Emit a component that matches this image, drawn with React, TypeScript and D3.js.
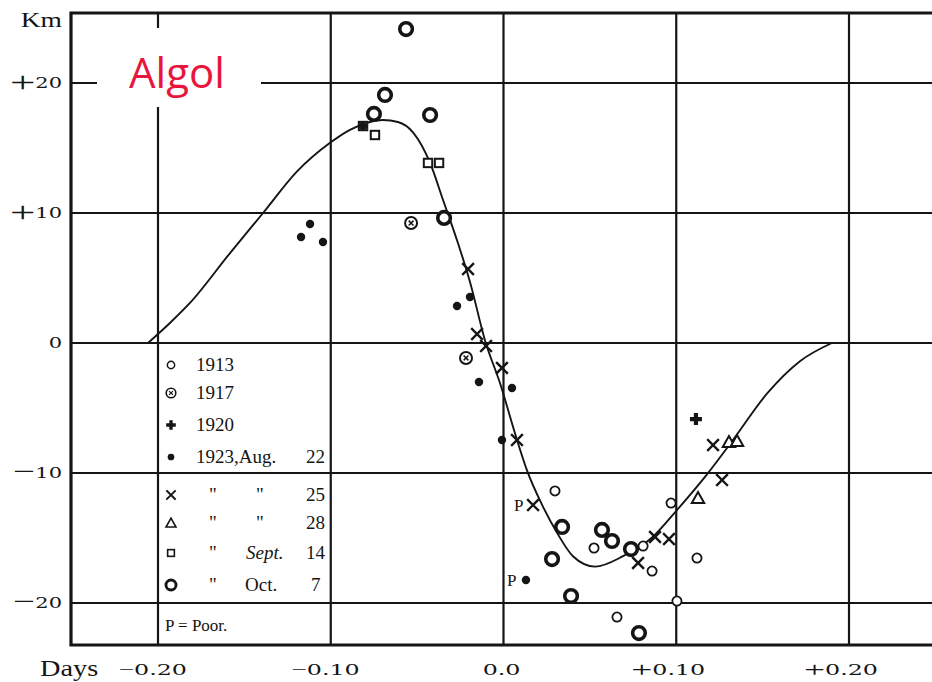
import React from 'react';
import * as d3 from 'd3';

const W = 932;
const H = 682;

// axis ticks
const xTicks = [-0.2, -0.1, 0, 0.1, 0.2];
const xTickSigns = ['\u2212', '\u2212', '', '+', '+'];
const xTickNums = ['0.20', '0.10', '0.0', '0.10', '0.20'];
const yTicks = [20, 10, 0, -10, -20];
const yTickSigns = ['+', '+', '', '\u2212', '\u2212'];
const yTickNums = ['20', '10', '0', '10', '20'];

// fitted velocity curve (days, km/s)
const curvePts: [number, number][] = [
  [-0.2058, 0], [-0.1931, 1.54], [-0.1815, 3.08], [-0.1583, 6.92], [-0.1392, 10.0],
  [-0.1195, 13.2], [-0.1004, 15.4], [-0.0889, 16.4], [-0.0773, 17.0], [-0.0698, 17.15],
  [-0.0611, 17.0], [-0.0524, 16.2], [-0.0425, 13.85], [-0.035, 11.0], [-0.0269, 7.9],
  [-0.0194, 4.7], [-0.0107, 0.2], [-0.002, -3.1], [0.0078, -7.45], [0.0136, -9.8],
  [0.0229, -12.6], [0.031, -14.6], [0.0402, -16.4], [0.053, -17.2],
  [0.0692, -16.4], [0.0865, -14.9], [0.1004, -12.85], [0.1178, -10.1], [0.1329, -7.45],
  [0.1525, -3.9], [0.1716, -1.4], [0.1901, 0],
];

// observations: [days, km, poor?]
type Obs = [number, number, boolean?];
const obs1913: Obs[] = [
  [0.0298, -11.38], [0.0524, -15.77], [0.0808, -15.62], [0.086, -17.54], [0.097, -12.31],
  [0.1004, -19.85], [0.0657, -21.08], [0.112, -16.54],
];
const obs1917: Obs[] = [[-0.0535, 9.23], [-0.0217, -1.15]];
const obs1920: Obs[] = [[0.1114, -5.85]];
const obsAug22: Obs[] = [
  [-0.1172, 8.15], [-0.112, 9.15], [-0.1045, 7.77], [-0.0194, 3.54], [-0.0269, 2.85],
  [-0.0142, -3.0], [0.0049, -3.46], [-0.0009, -7.46], [0.013, -18.23, true], [-0.0813, 16.69],
];
const obsAug25: Obs[] = [
  [-0.0205, 5.69], [-0.0153, 0.69], [-0.0101, -0.23], [-0.0009, -1.92], [0.0078, -7.46],
  [0.0171, -12.46, true], [0.0779, -16.92], [0.0877, -14.92], [0.0958, -15.08],
  [0.1213, -7.85], [0.1265, -10.54],
];
const obsAug28: Obs[] = [[0.1126, -11.92], [0.1305, -7.62], [0.1352, -7.54]];
const obsSep14: Obs[] = [[-0.0744, 16.0], [-0.0437, 13.85], [-0.0373, 13.85], [-0.0813, 16.69]];
const obsOct7: Obs[] = [
  [-0.0564, 24.15], [-0.0686, 19.08], [-0.075, 17.62], [-0.0425, 17.54], [-0.0344, 9.62],
  [0.0339, -14.15], [0.0281, -16.62], [0.0391, -19.46], [0.057, -14.38], [0.0628, -15.23],
  [0.0738, -15.85], [0.0784, -22.31],
];

const INK = '#151515';
const SERIF = '"Liberation Serif", "DejaVu Serif", serif';
const DSERIF = '"DejaVu Serif", serif';

type Kind = 'o' | 'ox' | 'plus' | 'dot' | 'x' | 'tri' | 'sq' | 'ring';

function Marker({ kind, cx, cy, s = 1 }: { kind: Kind; cx: number; cy: number; s?: number }) {
  const t = `translate(${cx},${cy}) scale(${s})`;
  switch (kind) {
    case 'o':
      return <circle transform={t} r={4.6} fill="#fff" stroke={INK} strokeWidth={1.8} />;
    case 'ox':
      return (
        <g transform={t}>
          <circle r={6} fill="#fff" stroke={INK} strokeWidth={2} />
          <path d="M-2.4,-2.4L2.4,2.4M-2.4,2.4L2.4,-2.4" stroke={INK} strokeWidth={1.5} />
        </g>
      );
    case 'plus':
      return <path transform={t} d="M-6,0H6M0,-6V6" stroke={INK} strokeWidth={4.2} />;
    case 'dot':
      return <circle transform={t} r={4.2} fill={INK} />;
    case 'x':
      return <path transform={t} d="M-5,-5L5,5M-5,5L5,-5" stroke={INK} strokeWidth={2.4} strokeLinecap="square" />;
    case 'tri':
      return <path transform={t} d="M0,-6L6.2,5H-6.2Z" fill="#fff" stroke={INK} strokeWidth={2} />;
    case 'sq':
      return <rect transform={t} x={-4.2} y={-4.2} width={8.4} height={8.4} fill="#fff" stroke={INK} strokeWidth={2} />;
    case 'ring':
      return <circle transform={t} r={6.3} fill="#fff" stroke={INK} strokeWidth={3.6} />;
  }
  return null;
}

const series: { kind: Kind; data: Obs[] }[] = [
  { kind: 'sq', data: obsSep14 },
  { kind: 'o', data: obs1913 },
  { kind: 'ox', data: obs1917 },
  { kind: 'ring', data: obsOct7 },
  { kind: 'tri', data: obsAug28 },
  { kind: 'x', data: obsAug25 },
  { kind: 'plus', data: obs1920 },
  { kind: 'dot', data: obsAug22 },
];

export default function App() {
  const x = d3.scaleLinear().domain([-0.2, 0.2]).range([158, 849]);
  const y = d3.scaleLinear().domain([20, -20]).range([83, 603]);
  const left = 71, top = 13, bottom = 645, right = W;

  const line = d3
    .line<[number, number]>()
    .x((d) => x(d[0]))
    .y((d) => y(d[1]))
    .curve(d3.curveMonotoneX);

  const legendX = 171;
  const textX = 196;
  const rowsY = [365, 393, 425, 457, 495, 523, 553, 585];

  return (
    <svg width={W} height={H} style={{ position: 'absolute', left: 0, top: 0, background: '#fff' }}>
      <rect width={W} height={H} fill="#fff" />
      {/* grid */}
      {xTicks.map((v) => (
        <line key={'gx' + v} x1={x(v)} x2={x(v)} y1={top} y2={bottom} stroke={INK} strokeWidth={2.2} />
      ))}
      {yTicks.map((v) => (
        <line key={'gy' + v} x1={left} x2={right} y1={y(v)} y2={y(v)} stroke={INK} strokeWidth={2.2} />
      ))}
      {/* frame */}
      <path d={`M${right},${top}H${left}V${bottom}H${right}`} fill="none" stroke={INK} strokeWidth={3.2} />

      {/* title box */}
      <rect x={97} y={28} width={164} height={79} fill="#fff" />
      <text x={129} y={88} fill="#e8163d" fontFamily='"Open Sans", "Noto Sans", sans-serif' fontSize={42}>
        Algol
      </text>

      {/* y axis labels */}
      <text transform="translate(62,27) scale(1.25,1)" textAnchor="end" fontFamily={SERIF} fontSize={22} fill={INK}>
        Km
      </text>
      {yTicks.map((v, i) => (
        <text
          key={'yl' + v}
          transform={`translate(62,${y(v) + 5}) scale(1.5,1)`}
          textAnchor="end"
          fontFamily={DSERIF}
          fontSize={14}
          fill={INK}
        >
          {yTickSigns[i] && (
            <tspan fontFamily={SERIF} fontSize={yTickSigns[i] === '+' ? 30 : 26} dy={yTickSigns[i] === '+' ? 3.5 : 2}>
              {yTickSigns[i]}
            </tspan>
          )}
          <tspan dy={yTickSigns[i] ? (yTickSigns[i] === '+' ? -3.5 : -2) : 0}>{yTickNums[i]}</tspan>
        </text>
      ))}

      {/* x axis labels */}
      <text transform="translate(40,676) scale(1.18,1)" fontFamily={SERIF} fontSize={24} fill={INK}>
        Days
      </text>
      {xTicks.map((v, i) => (
        <text
          key={'xl' + v}
          transform={`translate(${x(v) + (xTickNums[i].length === 3 ? 17 : 29)},675) scale(1.7,1)`}
          textAnchor="end"
          fontFamily={DSERIF}
          fontSize={14}
          fill={INK}
        >
          {xTickSigns[i] && (
            <tspan
              fontFamily={SERIF}
              fontSize={xTickSigns[i] === '+' ? 22 : 16}
              dy={xTickSigns[i] === '+' ? 2 : 0}
            >
              {xTickSigns[i]}
            </tspan>
          )}
          <tspan dy={xTickSigns[i] === '+' ? -2 : 0}>{xTickNums[i]}</tspan>
        </text>
      ))}

      {/* curve */}
      <path d={line(curvePts) || ''} fill="none" stroke={INK} strokeWidth={1.9} />

      {/* legend */}
      {(['o', 'ox', 'plus', 'dot', 'x', 'tri', 'sq', 'ring'] as Kind[]).map((k, i) => (
        <Marker key={'lg' + k} kind={k} cx={legendX} cy={rowsY[i]} s={0.8} />
      ))}
      <g fontFamily={SERIF} fontSize={19} fill={INK}>
        <text x={textX} y={rowsY[0] + 6}>1913</text>
        <text x={textX} y={rowsY[1] + 6}>1917</text>
        <text x={textX} y={rowsY[2] + 6}>1920</text>
        <text y={rowsY[3] + 6}>
          <tspan x={textX}>1923,Aug.</tspan>
          <tspan x={306}>22</tspan>
        </text>
        <text y={rowsY[4] + 6}>
          <tspan x={209}>"</tspan>
          <tspan x={256}>"</tspan>
          <tspan x={306}>25</tspan>
        </text>
        <text y={rowsY[5] + 6}>
          <tspan x={209}>"</tspan>
          <tspan x={256}>"</tspan>
          <tspan x={306}>28</tspan>
        </text>
        <text y={rowsY[6] + 6}>
          <tspan x={209}>"</tspan>
          <tspan x={246} fontStyle="italic">Sept.</tspan>
          <tspan x={306}>14</tspan>
        </text>
        <text y={rowsY[7] + 6}>
          <tspan x={209}>"</tspan>
          <tspan x={245}>Oct.</tspan>
          <tspan x={311}>7</tspan>
        </text>
        <text x={165} y={631} fontSize={17}>
          P = Poor.
        </text>
      </g>

      {/* observations */}
      {series.map((s) =>
        s.data.map((d, j) => (
          <g key={s.kind + j}>
            <Marker kind={s.kind} cx={x(d[0])} cy={y(d[1])} />
            {d[2] && (
              <text x={x(d[0]) - 19} y={y(d[1]) + 6} fontFamily={SERIF} fontSize={17} fill={INK}>
                P
              </text>
            )}
          </g>
        ))
      )}
    </svg>
  );
}
